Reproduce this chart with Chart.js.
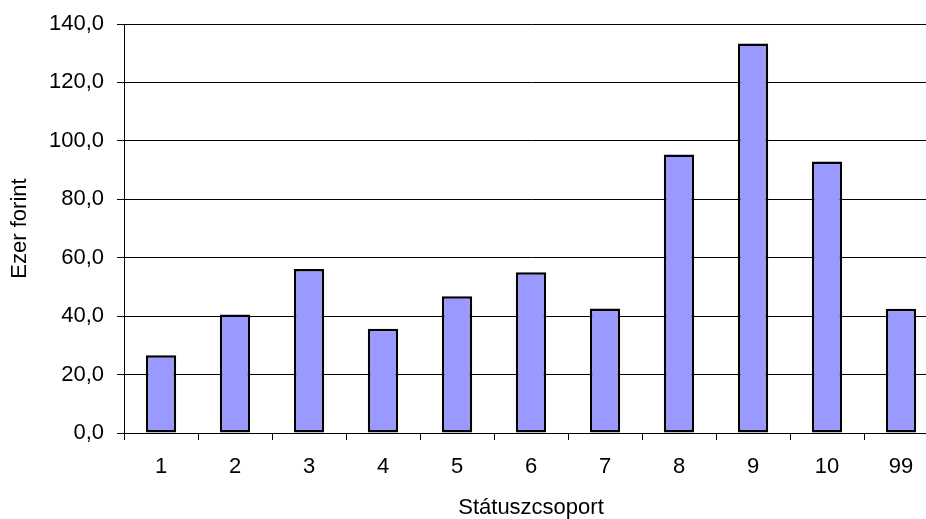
<!DOCTYPE html>
<html>
<head>
    <meta charset="utf-8">
    <title>Státuszcsoport</title>
    <script src="https://cdn.jsdelivr.net/npm/chart.js"></script>
    <style>
        html, body {
            margin: 0;
            padding: 0;
            background-color: #ffffff;
            overflow: hidden;
        }
        #wrap {
            position: relative;
            width: 940px;
            height: 519px;
        }
    </style>
</head>
<body>
    <div id="wrap">
        <canvas id="myChart"></canvas>
    </div>
    <script>
        // values
        const categories = ["1", "2", "3", "4", "5", "6", "7", "8", "9", "10", "99"];
        const values = [26.6, 40.6, 56.1, 35.7, 46.8, 55.0, 42.6, 95.3, 133.3, 92.9, 42.5];

        const font = { family: "'Liberation Sans', Arial, sans-serif", size: 22 };

        var ctx = document.getElementById("myChart").getContext("2d");
        var chart = new Chart(ctx, {
            type: "bar",
            data: {
                labels: categories,
                datasets: [{
                    label: "Ezer forint",
                    data: values,
                    backgroundColor: "#9999FF",
                    borderColor: "#000000",
                    borderWidth: 2.5,
                    borderSkipped: false,
                    barPercentage: 0.41,
                    categoryPercentage: 1.0,
                }],
            },
            options: {
                responsive: true,
                maintainAspectRatio: false,
                animation: false,
                layout: {
                    padding: { top: 24, right: 2, left: 0, bottom: 0 }
                },
                plugins: {
                    legend: { display: false },
                    tooltip: { enabled: false },
                },
                scales: {
                    x: {
                        grid: {
                            drawOnChartArea: false,
                            drawTicks: true,
                            tickLength: 7,
                            color: "#000000",
                        },
                        border: { color: "#000000", width: 1 },
                        ticks: {
                            color: "#000000",
                            font: font,
                            padding: 14,
                            maxRotation: 0,
                        },
                        title: {
                            display: true,
                            text: "Státuszcsoport",
                            color: "#000000",
                            font: font,
                            padding: { top: 4, bottom: -2 },
                        },
                        afterFit: function (axis) {
                            axis.height = 86;
                            axis.paddingLeft = 0;
                            axis.paddingRight = 0;
                        },
                    },
                    y: {
                        min: 0,
                        max: 140,
                        ticks: {
                            stepSize: 20,
                            color: "#000000",
                            font: font,
                            padding: 13,
                            callback: function (v) { return v.toFixed(1).replace(".", ","); },
                        },
                        grid: {
                            color: "#000000",
                            lineWidth: 1,
                            tickLength: 7,
                        },
                        border: { color: "#000000", width: 1 },
                        title: {
                            display: true,
                            text: "Ezer forint",
                            color: "#000000",
                            font: font,
                            padding: { top: 7, bottom: 0 },
                        },
                        afterFit: function (axis) {
                            axis.width = 124;
                            axis.paddingTop = 0;
                            axis.paddingBottom = 0;
                        },
                    },
                },
            },
        });
    </script>
</body>
</html>
